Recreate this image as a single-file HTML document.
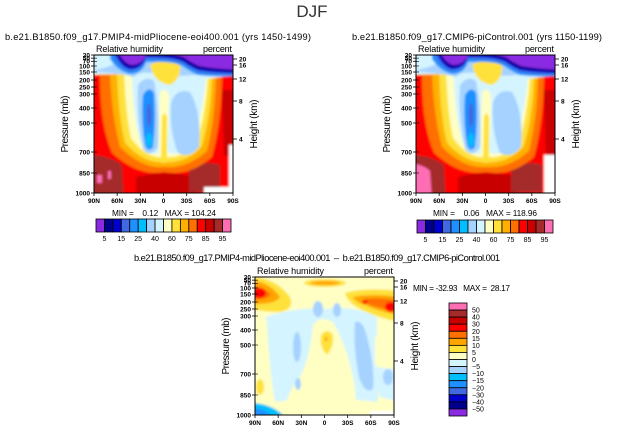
<!DOCTYPE html>
<html><head><meta charset="utf-8"><style>
body{margin:0;background:#fff}
svg{display:block;font-family:"Liberation Sans",sans-serif}
text{white-space:pre}
</style></head><body>
<svg id="c" width="624" height="433" viewBox="0 0 624 433" xmlns="http://www.w3.org/2000/svg">
<defs>
<filter id="bl" x="-10%" y="-10%" width="120%" height="120%"><feGaussianBlur stdDeviation="1.1"/></filter>
<clipPath id="cp"><rect x="0" y="0" width="139" height="138"/></clipPath>
</defs>
<text x="312" y="17" text-anchor="middle" font-size="17" fill="#333">DJF</text>
<g id="root"></g>
</svg>
<script>
const pLevels=[30,50,70,100,150,200,250,300,400,500,700,850,1000];
const pKnots=[[30,0],[100,11],[150,17],[200,25],[250,32],[300,39],[400,53],[500,68],[700,97],[850,118],[1000,138]];
const hTicks=[20,16,12,8,4];
const hKnots=[[20,4],[16,10],[12,24],[8,46],[4,84]];
const latTicks=["90N","60N","30N","0","30S","60S","90S"];
const rhColors=["#8a2be2","#00008b","#0000cd","#4169e1","#1e90ff","#00bfff","#a6d2ff","#d4f4ff","#ffffc4","#ffe13a","#ffb000","#ff7000","#ff0000","#c80000","#a52a2a","#ff6eb4"];
const rhLabels=["5","15","25","40","60","75","85","95"];
const dColors=["#ff6eb4","#a52a2a","#c80000","#ff0000","#ff7000","#ffa500","#ffe13a","#ffffc4","#d4f4ff","#a6d2ff","#00bfff","#1e90ff","#4169e1","#0000cd","#00008b","#8a2be2"];
const dLabels=["50","40","30","20","15","10","5","0","-5","-10","-15","-20","-30","-40","-50"];

const NS="http://www.w3.org/2000/svg";
const root=document.getElementById('root');
function el(t,a,p){const e=document.createElementNS(NS,t);for(const k in a)e.setAttribute(k,a[k]);(p||root).appendChild(e);return e;}
function interp(kn,v){for(let i=0;i<kn.length-1;i++){const a=kn[i],b=kn[i+1];if((v-a[0])*(v-b[0])<=0){return a[1]+(b[1]-a[1])*(v-a[0])/(b[0]-a[0]);}}return kn[kn.length-1][1];}
function yP(p){return interp(pKnots,p);}
function yH(h){return interp(hKnots,h);}
function xL(i){return i*139/6;}
function txt(x,y,s,size,anchor,name,parent,extra){const t=el('text',Object.assign({x:x,y:y,'font-size':size,'text-anchor':anchor||'start',fill:'#000'},extra||{}),parent);t.textContent=s;return t;}

const topField=`
<rect x="-5" y="-5" width="150" height="150" fill="#ff0000"/>
<path d="M128 35 L145 35 L145 105 L130 100Z" fill="#c80000"/>
<path d="M-5 100 Q15 100 28 110 L30 145 L-5 145Z" fill="#a52a2a"/>
<path d="M42 122 Q70 114 102 122 L102 145 L42 145Z" fill="#c80000"/>
<path d="M95 116 Q108 104 126 110 L126 137 L95 137Z" fill="#a52a2a"/>
<path d="M6 22 Q6 70 18 98 Q45 122 70 117 Q95 122 118 102 Q127 70 128 25 L128 15 L6 15Z" fill="#ff7000"/>
<path d="M-5 20 L16 20 Q18 62 26 92 Q48 114 70 112 Q93 114 113 96 Q121 65 122 22 L122 15 L-5 15Z" fill="#ffb000"/>
<path d="M-5 15 L23 15 Q24 60 31 88 Q50 109 70 107 Q92 109 108 91 Q117 60 118 22 L118 10 L-5 10Z" fill="#ffe13a"/>
<path d="M-5 10 L30 10 Q31 55 37 83 Q52 104 70 102 Q90 104 103 87 Q112 58 114 20 L114 5 L-5 5Z" fill="#ffffc4"/>
<path d="M-5 -5 L145 -5 L145 20 Q125 22 112 24 Q108 60 100 85 Q88 102 74 98 Q70 60 68 40 Q66 60 66 98 Q52 102 46 85 Q38 55 38 20 Q20 18 -5 20Z" fill="#d4f4ff"/>
<path d="M-5 -5 L145 -5 L145 18 Q120 20 100 20 Q80 22 60 18 Q45 16 40 22 Q25 18 -5 16Z" fill="#a6d2ff"/>
<path d="M44 30 Q52 20 60 26 Q66 55 64 92 Q56 104 49 94 Q42 60 44 30Z" fill="#a6d2ff"/>
<path d="M77 48 Q82 33 96 37 Q108 58 105 92 Q96 104 84 98 Q75 75 77 48Z" fill="#a6d2ff"/>
<path d="M49 40 Q55 30 60 38 Q62 65 59 92 Q54 98 51 90 Q47 65 49 40Z" fill="#1e90ff"/>
<ellipse cx="55" cy="85" rx="3" ry="7" fill="#00bfff"/>
<ellipse cx="55" cy="60" rx="2.5" ry="12" fill="#4169e1"/>
<path d="M66 38 Q70 30 75 40 Q75 80 72 100 Q68 104 65 100 Q64 70 66 38Z" fill="#ffffc4"/>
<path d="M68 62 Q70 55 73 62 L73 108 L67 108Z" fill="#ffe13a"/>
<path d="M56 10 Q70 2 86 8 Q88 24 76 30 Q60 28 56 10Z" fill="#ffe13a"/>
<path d="M0 -5 L0 15 Q10 14 20 9 L20 -5Z" fill="#d4f4ff"/>
<path d="M16 -5 L145 -5 L145 21 Q122 22 104 20 Q95 16 90 12 Q80 6 60 7 L52 7 Q48 19 36 19 Q24 16 16 4Z" fill="#1e90ff"/>
<path d="M19 -5 L145 -5 L145 19 Q122 20 104 17 Q95 13 90 9 Q80 4 60 4 L52 4 Q48 16 36 16 Q26 14 19 0Z" fill="#4169e1"/>
<path d="M20 -5 L145 -5 L145 18 Q122 18 104 15 Q95 11 90 7 Q80 2 60 2 L52 2 Q48 14 36 14 Q27 12 21 -2Z" fill="#0000cd"/>
<path d="M22 -5 L145 -5 L145 17 Q122 16 104 13 Q95 9 90 5 Q80 0 60 0 L52 0 Q48 12 36 12 Q28 10 22 -5Z" fill="#00008b"/>
<path d="M23 -5 L145 -5 L145 15 Q122 14 105 11 Q96 7 91 3 Q80 -2 60 -2 L53 -2 Q49 10 37 10 Q29 8 23 -5Z" fill="#8a2be2"/>
`;
const rightExtra=`<path d="M-5 108 Q8 110 14 116 L16 145 L-5 145Z" fill="#ff6eb4"/><rect x="128" y="100" width="18" height="45" fill="#fff"/>`;
const leftExtra=`<rect x="3" y="120" width="5" height="8" fill="#ff6eb4"/><rect x="14" y="116" width="3" height="8" fill="#ff6eb4"/><rect x="110" y="132" width="35" height="12" fill="#fff"/><rect x="135" y="90" width="10" height="55" fill="#fff"/>`;
const diffField=`
<rect x="-5" y="-5" width="150" height="150" fill="#ffffc4"/>
<path d="M10 40 Q40 30 70 32 Q100 28 122 40 L122 95 Q125 120 122 125 Q70 118 20 125 Q14 90 12 45Z" fill="#d4f4ff"/>
<path d="M58 48 Q65 38 78 45 Q92 70 98 100 Q102 118 100 130 L30 130 Q35 110 45 100 Q55 80 58 48Z" fill="#ffffc4"/>
<path d="M120 60 Q130 55 145 60 L145 90 Q130 92 120 88Z" fill="#ffffc4"/>
<path d="M120 90 Q135 92 145 92 L145 125 L125 120Z" fill="#d4f4ff"/>
<ellipse cx="63" cy="32" rx="5" ry="8" fill="#a6d2ff"/>
<ellipse cx="82" cy="33" rx="4" ry="7" fill="#a6d2ff"/>
<ellipse cx="42" cy="70" rx="4" ry="15" fill="#a6d2ff"/>
<ellipse cx="43" cy="107" rx="3" ry="6" fill="#a6d2ff"/>
<path d="M100 45 Q108 42 112 60 Q120 90 118 112 Q110 118 104 100 Q98 70 100 45Z" fill="#a6d2ff"/>
<ellipse cx="133" cy="100" rx="5" ry="8" fill="#a6d2ff"/>
<path d="M-5 0 Q20 0 35 20 Q40 32 25 35 Q10 35 -5 32Z" fill="#ffe13a"/>
<path d="M-5 3 Q15 5 25 20 Q20 28 -5 27Z" fill="#ffa500"/>
<path d="M-5 8 Q10 10 16 18 Q10 24 -5 22Z" fill="#ff7000"/>
<ellipse cx="4" cy="16" rx="7" ry="5" fill="#ff0000"/>
<path d="M90 16 Q110 10 145 14 L145 45 Q125 42 105 32 Q92 25 90 16Z" fill="#ffe13a"/>
<path d="M98 20 Q115 16 145 20 L145 38 Q125 35 110 28 Q100 25 98 20Z" fill="#ffa500"/>
<path d="M108 22 Q125 20 145 24 L145 36 Q130 32 115 28Z" fill="#ff7000"/>
<ellipse cx="136" cy="30" rx="6" ry="5" fill="#ff0000"/>
<ellipse cx="110" cy="25" rx="3" ry="1.8" fill="#ff0000"/>
<ellipse cx="70" cy="6" rx="21" ry="4" fill="#ffe13a"/>
<ellipse cx="70" cy="6" rx="15" ry="2" fill="#ffa500"/>
<path d="M66 58 Q72 50 78 58 Q79 70 72 78 Q64 70 66 58Z" fill="#ffe13a"/>
<ellipse cx="71" cy="62" rx="1.5" ry="2.5" fill="#ffa500"/>
<ellipse cx="5" cy="110" rx="4" ry="8" fill="#ffe13a"/>
<path d="M-5 126 Q15 126 28 138 L-5 145Z" fill="#00bfff"/>
<path d="M-5 131 Q8 131 16 138 L-5 145Z" fill="#1e90ff"/>
<rect x="115" y="134" width="30" height="10" fill="#fff"/>
`;

function panel(x0,y0,field,name){
  const g=el('g',{transform:`translate(${x0},${y0})`});
  
  const fg=el('g',{'clip-path':'url(#cp)'},g);
  const inner=el('g',{filter:'url(#bl)'},fg);
  inner.innerHTML=field;
  
  const fr=el('rect',{x:0,y:0,width:139,height:138,fill:'none',stroke:'#000','stroke-width':1},g);
  
  pLevels.forEach(p=>{const y=yP(p);
    el('line',{x1:0,x2:-3,y1:y,y2:y,stroke:'#000','stroke-width':0.8},g);
    el('line',{x1:0,x2:3,y1:y,y2:y,stroke:'#000','stroke-width':0.6},g);
    txt(-4,y+2.3,String(p),6.5,'end','pressure-tick-label',g,{'font-weight':'bold'});});
  hTicks.forEach(h=>{const y=yH(h);
    el('line',{x1:139,x2:143,y1:y,y2:y,stroke:'#000','stroke-width':0.8},g);
    txt(145,y+2.5,String(h),6.5,'start','height-tick-label',g,{'font-weight':'bold'});});
  latTicks.forEach((l,i)=>{const x=xL(i);
    el('line',{x1:x,x2:x,y1:138,y2:141,stroke:'#000','stroke-width':0.8},g);
    txt(x,148,l,6.5,'middle','lat-tick-label',g,{'font-weight':'bold'});});
  txt(2,-3,'Relative humidity',9,'start','variable-label',g,{textLength:67});
  txt(138,-3,'percent',9,'end','units-label',g,{textLength:29});
  txt(-26,69,'Pressure (mb)',10,'middle','y-axis-title',g,{transform:'rotate(-90 -26 69)',textLength:57});
  txt(163,69,'Height (km)',10,'middle','right-axis-title',g,{transform:'rotate(-90 163 69)',textLength:49});
  return g;
}
function hbar(x0,y0,w,h,name){
  const g=el('g',{});
  const bw=w/rhColors.length;
  rhColors.forEach((c,i)=>{const r=el('rect',{x:x0+i*bw,y:y0,width:bw,height:h,fill:c,stroke:'#000','stroke-width':0.8},g);
    });
  rhLabels.forEach((l,i)=>{txt(x0+(1+2*i)*bw,y0+h+9,l,7,'middle','colorbar-label',g);});
}

panel(94,55,topField+leftExtra,'left-panel');
txt(5,40,'b.e21.B1850.f09_g17.PMIP4-midPliocene-eoi400.001 (yrs 1450-1499)',9.3,'start','left-panel-title',root,{textLength:306});
txt(112,216,'MIN =    0.12   MAX = 104.24',8.3,'start','left-min-max',root,{textLength:104});
hbar(96,219,135,13,'left-colorbar');

panel(416,55,topField+rightExtra,'right-panel');
txt(352,40,'b.e21.B1850.f09_g17.CMIP6-piControl.001 (yrs 1150-1199)',9.3,'start','right-panel-title',root,{textLength:250});
txt(433,216,'MIN =    0.06   MAX = 118.96',8.3,'start','right-min-max',root,{textLength:104});
hbar(417,220,136,13,'right-colorbar');

panel(255,277,diffField,'difference-panel');
txt(134,261,'b.e21.B1850.f09_g17.PMIP4-midPliocene-eoi400.001  \u2013  b.e21.B1850.f09_g17.CMIP6-piControl.001',9.3,'start','difference-title',root,{textLength:366});
txt(413,291,'MIN = -32.93   MAX =  28.17',8.3,'start','difference-min-max',root,{textLength:97});
(function(){
  const g=el('g',{});
  const x0=449,y0=303,w=18,h=113,bh=h/dColors.length;
  dColors.forEach((c,i)=>{const r=el('rect',{x:x0,y:y0+i*bh,width:w,height:bh,fill:c,stroke:'#000','stroke-width':0.8},g);
    });
  dLabels.forEach((l,i)=>{txt(472,y0+(i+1)*bh+2.5,l.replace('-','\u2212'),7,'start','colorbar-label',g);});
})();
</script>
</body></html>
